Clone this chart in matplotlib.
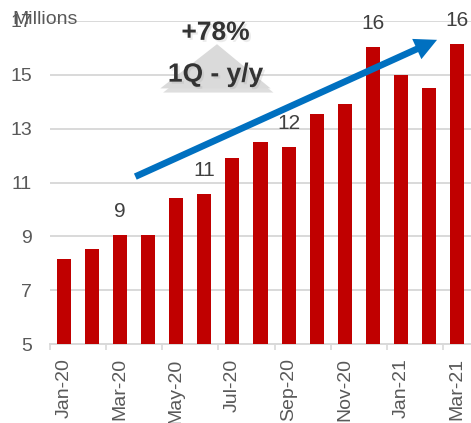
import matplotlib.pyplot as plt
import matplotlib.patheffects as pe
from matplotlib.patches import Polygon, FancyArrowPatch
import numpy as np

plt.rcParams['font.family'] = ['Liberation Sans', 'DejaVu Sans']

months = ['Jan-20', 'Feb-20', 'Mar-20', 'Apr-20', 'May-20', 'Jun-20', 'Jul-20',
          'Aug-20', 'Sep-20', 'Oct-20', 'Nov-20', 'Dec-20', 'Jan-21', 'Feb-21', 'Mar-21']
values = [8.16, 8.53, 9.04, 9.04, 10.43, 10.56, 11.91, 12.51, 12.32, 13.55,
          13.93, 16.01, 14.97, 14.50, 16.15]
# quarter-end bars get a value label
labelled = ['Mar-20', 'Jun-20', 'Sep-20', 'Dec-20', 'Mar-21']
yticks = [5, 7, 9, 11, 13, 15, 17]

# trend arrow (data coords) and callout
arrow_tail = (2.54, 11.22)
arrow_tip = (13.29, 16.29)
callout = ['+78%', '1Q - y/y']

grey = '#d9d9d9'
fig = plt.figure(figsize=(4.71, 4.23), dpi=100)
ax = fig.add_axes([50 / 471, 78.6 / 423, 421 / 471, 323.7 / 423])

x = np.arange(len(months))
ax.bar(x, values, width=0.5, color='#C00000', zorder=3)

for i, (m, v) in enumerate(zip(months, values)):
    if m in labelled:
        ax.annotate(f'{v:.0f}', (i, v), xytext=(0, 17), textcoords='offset points',
                    ha='center', va='center', fontsize=15, color='#404040',
                    annotation_clip=False, zorder=5)

ax.set_xlim(-0.5, len(months) - 0.5)
ax.set_ylim(yticks[0], yticks[-1])
ax.set_yticks(yticks)
ax.set_yticklabels([str(t) for t in yticks])
ax.grid(axis='y', color=grey, lw=1.4, zorder=0)

ax.set_xticks(x[::2])
ax.set_xticklabels(months[::2], rotation=90)
ax.set_xticks(np.arange(-0.5, len(months) - 1, 2), minor=True)
ax.tick_params(axis='x', which='major', length=0, pad=10, labelsize=14, labelcolor='#595959')
ax.tick_params(axis='x', which='minor', length=4, width=1.2, color=grey)
ax.tick_params(axis='y', length=0, pad=13, labelsize=14, labelcolor='#595959')
for s in ['top', 'right', 'left']:
    ax.spines[s].set_visible(False)
ax.spines['bottom'].set_color(grey)
ax.spines['bottom'].set_linewidth(1.4)

fig.text(12 / 471, 1 - 20 / 423, 'Millions', ha='left', va='center',
         fontsize=14, color='#595959')

# grey triangle behind the growth callout
tri = Polygon([[3.43, 14.49], [5.45, 16.13], [7.36, 14.49]], closed=True,
              facecolor='#dadada', edgecolor='none', zorder=4,
              path_effects=[pe.SimplePatchShadow(offset=(2, -3), alpha=0.25,
                                                 shadow_rgbFace='#7f7f7f'),
                            pe.Normal()])
ax.add_patch(tri)
shadow = [pe.SimplePatchShadow(offset=(1.5, -1.5), alpha=0.15, shadow_rgbFace='#7f7f7f'),
          pe.Normal()]
ax.text(5.4, 16.55, callout[0], ha='center', va='center', fontsize=19,
        fontweight='bold', color='#333333', zorder=6, path_effects=shadow)
ax.text(5.4, 15.0, callout[1], ha='center', va='center', fontsize=19,
        fontweight='bold', color='#333333', zorder=6, path_effects=shadow)

arrow = FancyArrowPatch(arrow_tail, arrow_tip,
                        arrowstyle='simple,head_length=0.8,head_width=0.8,tail_width=0.24',
                        mutation_scale=20, color='#0070C0', lw=0,
                        shrinkA=0, shrinkB=0, zorder=7, clip_on=False)
ax.add_patch(arrow)

fig.savefig('out.png', dpi=100)
